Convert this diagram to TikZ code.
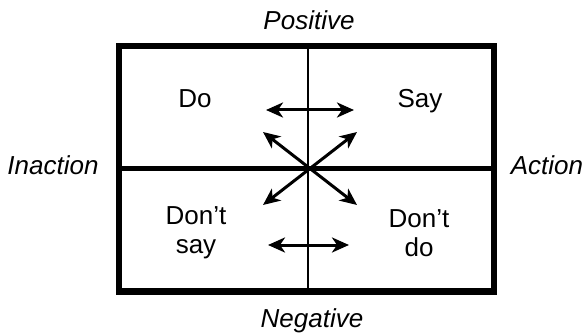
\documentclass[tikz,border=0pt]{standalone}
\usepackage{fontspec}
\setmainfont{Liberation Sans}
\usetikzlibrary{arrows.meta}
\begin{document}
\begin{tikzpicture}[x=1pt,y=-1pt,
    >={Stealth[length=17pt,width=15pt,inset=5pt]},
    lab/.style={font=\fontsize{26}{29}\selectfont},
    axis/.style={font=\fontsize{26}{29}\selectfont\itshape},
    arr/.style={<->,line width=3pt}]
  \useasboundingbox (0,0) rectangle (584,334);
  % frame and the two dividing lines
  \draw[line width=6.5pt] (119,46) rectangle (494,291.5);
  \draw[line width=5pt] (119,169) -- (494,169);
  \draw[line width=1.5pt] (308,46) -- (308,291.5);
  % axis labels round the frame
  \node[axis,anchor=base] (pos) at (309,30) {Positive};
  \node[axis,anchor=base] (neg) at (312,327) {Negative};
  \node[axis,anchor=base] (inact) at (53,175) {Inaction};
  \node[axis,anchor=base] (act) at (547,175) {Action};
  % the four quadrants
  \node[lab,anchor=base] (do) at (195,108) {Do};
  \node[lab,anchor=base] (say) at (420,108) {Say};
  \node[lab,align=center] (dontsay) at (196,233) {Don’t\\say};
  \node[lab,align=center] (dontdo) at (419,233) {Don’t\\do};
  % arrow ends
  \coordinate (t1) at (266,110);
  \coordinate (t2) at (354,110);
  \coordinate (b1) at (268,245);
  \coordinate (b2) at (349,245);
  \coordinate (ul) at (263,132);
  \coordinate (ur) at (357,132);
  \coordinate (ll) at (263,205);
  \coordinate (lr) at (357,205);
  \draw[arr] (t1) -- (t2);
  \draw[arr] (b1) -- (b2);
  \draw[arr] (ul) -- (lr);
  \draw[arr] (ur) -- (ll);
\end{tikzpicture}
\end{document}
